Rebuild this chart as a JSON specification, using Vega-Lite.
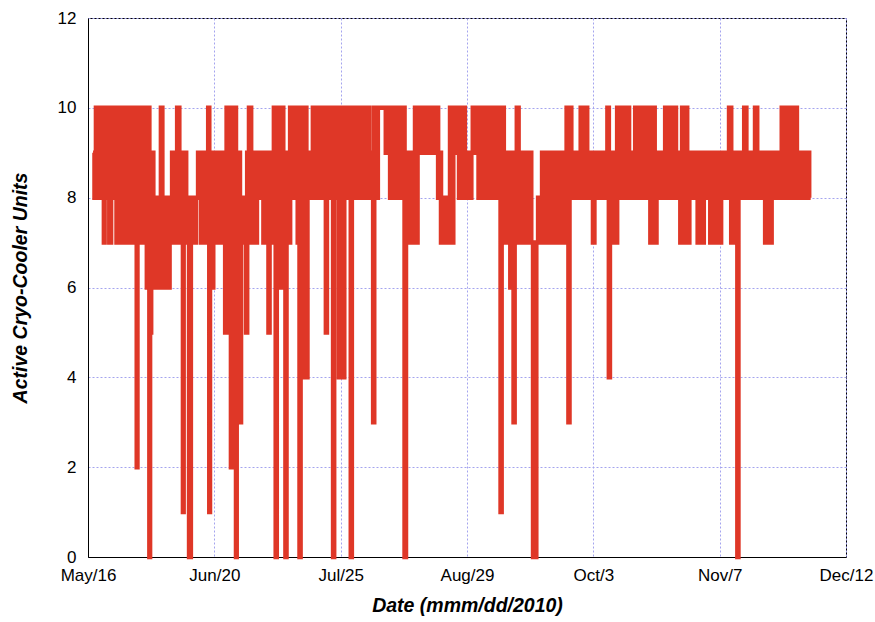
{
  "$schema": "https://vega.github.io/schema/vega-lite/v6.json",
  "width": 758,
  "height": 539,
  "autosize": {"type": "none"},
  "padding": {"left": 88, "top": 18, "right": 29, "bottom": 65},
  "background": "white",
  "config": {
    "view": {"stroke": "black", "strokeWidth": 1},
    "font": "Liberation Sans",
    "axis": {
      "labelFont": "Liberation Sans",
      "titleFont": "Liberation Sans",
      "labelFontSize": 17,
      "labelColor": "black",
      "titleFontSize": 19.5,
      "titleFontWeight": "bold",
      "titleFontStyle": "italic",
      "titleColor": "black",
      "ticks": false,
      "domainColor": "black",
      "grid": true,
      "gridColor": "#a4a4ee",
      "gridDash": [2, 2],
      "gridWidth": 1
    }
  },
  "data": {"values": [
    {"d":1.4,"v":9},{"d":1.8,"v":8},{"d":2.2,"v":10},{"d":3.0,"v":8},{"d":3.8,"v":10},{"d":4.4,"v":7},{"d":4.6,"v":10},{"d":5.4,"v":8},{"d":5.9,"v":7},{"d":6.4,"v":10},{"d":7.1,"v":8},{"d":7.6,"v":10},{"d":7.9,"v":7},
    {"d":8.5,"v":10},{"d":9.4,"v":7},{"d":10.3,"v":10},{"d":11.2,"v":7},{"d":12.1,"v":10},{"d":13.0,"v":7},{"d":13.5,"v":2},{"d":13.7,"v":10},{"d":14.6,"v":7},{"d":15.5,"v":10},{"d":16.3,"v":6},{"d":16.6,"v":10},{"d":17.0,"v":0},{"d":17.2,"v":5},{"d":17.5,"v":9},{"d":18.1,"v":6},{"d":18.8,"v":8},{"d":19.5,"v":6},{"d":20.2,"v":10},{"d":20.6,"v":6},{"d":21.4,"v":8},{"d":22.0,"v":6},{"d":22.6,"v":8},{"d":23.0,"v":7},{"d":23.3,"v":9},{"d":24.0,"v":7},{"d":24.7,"v":10},{"d":25.3,"v":7},{"d":25.9,"v":9},{"d":26.3,"v":1},{"d":26.5,"v":9},{"d":27.2,"v":7},{"d":27.7,"v":8},{"d":28.0,"v":0},{"d":28.5,"v":8},{"d":29.2,"v":7},{"d":29.9,"v":8},{"d":30.5,"v":9},{"d":31.3,"v":7},{"d":32.1,"v":9},{"d":32.9,"v":7},{"d":33.3,"v":10},{"d":33.6,"v":1},{"d":33.8,"v":9},
    {"d":34.2,"v":6},{"d":34.7,"v":9},{"d":35.5,"v":7},{"d":36.3,"v":9},{"d":37.1,"v":7},{"d":37.6,"v":9},{"d":38.0,"v":5},{"d":38.4,"v":10},{"d":39.0,"v":5},{"d":39.4,"v":10},{"d":39.6,"v":2},{"d":39.8,"v":9},{"d":40.2,"v":4},{"d":40.6,"v":10},{"d":41.0,"v":0},{"d":41.2,"v":3},{"d":41.6,"v":9},{"d":42.1,"v":3},{"d":42.4,"v":7},{"d":42.9,"v":8},{"d":43.4,"v":7},{"d":43.8,"v":5},{"d":44.1,"v":9},{"d":44.6,"v":10},{"d":45.2,"v":7},{"d":45.8,"v":9},{"d":46.4,"v":7},{"d":46.8,"v":9},{"d":47.4,"v":8},{"d":48.0,"v":9},{"d":48.6,"v":7},{"d":49.3,"v":9},{"d":50.0,"v":5},{"d":50.3,"v":9},{"d":50.9,"v":7},{"d":51.5,"v":10},{"d":52.0,"v":0},{"d":52.3,"v":10},{"d":53.0,"v":6},{"d":53.5,"v":10},{"d":54.1,"v":7},{"d":54.7,"v":0},{"d":55.0,"v":9},{"d":55.6,"v":7},{"d":56.0,"v":10},{"d":56.8,"v":8},{"d":57.5,"v":10},{"d":58.1,"v":7},{"d":58.6,"v":0},{"d":58.9,"v":10},{"d":59.5,"v":4},{"d":60.0,"v":10},{"d":60.5,"v":4},{"d":60.8,"v":8},{"d":61.4,"v":9},{"d":62.0,"v":8},{"d":62.3,"v":10},{"d":62.9,"v":8},{"d":63.5,"v":10},{"d":64.2,"v":8},{"d":64.9,"v":10},{"d":65.6,"v":8},{"d":65.9,"v":5},{"d":66.2,"v":10},{"d":66.9,"v":8},
    {"d":67.5,"v":10},{"d":67.9,"v":0},{"d":68.2,"v":10},{"d":69.0,"v":8},{"d":69.5,"v":4},{"d":69.9,"v":10},{"d":70.5,"v":4},{"d":71.0,"v":10},{"d":71.5,"v":8},{"d":72.1,"v":10},{"d":72.8,"v":0},{"d":73.1,"v":10},{"d":73.8,"v":8},{"d":74.5,"v":10},{"d":75.2,"v":8},{"d":75.9,"v":10},{"d":76.6,"v":8},{"d":76.9,"v":9},{"d":77.3,"v":10},{"d":78.0,"v":8},{"d":78.6,"v":9},{"d":79.0,"v":3},{"d":79.3,"v":10},{"d":79.9,"v":8},{"d":80.3,"v":10},{"d":82.5,"v":9},{"d":83.1,"v":10},{"d":83.7,"v":8},{"d":84.4,"v":10},{"d":85.1,"v":8},{"d":85.8,"v":10},{"d":86.4,"v":8},{"d":87.1,"v":10},{"d":87.7,"v":0},{"d":88.1,"v":9},{"d":88.7,"v":7},{"d":89.4,"v":9},{"d":90.1,"v":7},{"d":90.6,"v":10},{"d":90.9,"v":7},{"d":91.3,"v":10},{"d":91.9,"v":9},{"d":92.6,"v":10},{"d":93.3,"v":9},{"d":94.0,"v":10},{"d":94.7,"v":9},{"d":95.4,"v":10},{"d":96.1,"v":9},{"d":96.6,"v":10},{"d":97.0,"v":8},{"d":97.5,"v":9},{"d":97.8,"v":7},{"d":98.5,"v":8},{"d":99.2,"v":7},{"d":99.9,"v":8},
    {"d":100.3,"v":10},{"d":100.8,"v":7},{"d":101.2,"v":10},{"d":101.8,"v":9},{"d":102.4,"v":10},{"d":102.8,"v":8},{"d":103.4,"v":9},{"d":104.0,"v":10},{"d":104.4,"v":8},{"d":105.0,"v":9},{"d":105.6,"v":8},{"d":106.2,"v":9},{"d":106.6,"v":10},{"d":107.2,"v":9},{"d":107.8,"v":10},{"d":108.2,"v":8},{"d":108.8,"v":9},{"d":109.4,"v":10},{"d":110.0,"v":8},{"d":110.6,"v":10},{"d":111.3,"v":8},{"d":112.0,"v":10},{"d":112.7,"v":8},{"d":113.4,"v":10},{"d":114.0,"v":8},{"d":114.3,"v":1},{"d":114.6,"v":10},{"d":115.2,"v":7},{"d":115.8,"v":9},{"d":116.5,"v":8},{"d":117.0,"v":6},{"d":117.4,"v":9},{"d":117.9,"v":3},{"d":118.2,"v":8},{"d":118.8,"v":10},{"d":119.3,"v":7},{"d":119.9,"v":9},{"d":120.5,"v":7},{"d":121.0,"v":9},{"d":121.6,"v":7},{"d":122.2,"v":9},{"d":122.8,"v":7},{"d":123.3,"v":0},{"d":124.2,"v":7},{"d":124.7,"v":8},{"d":125.3,"v":7},{"d":125.8,"v":9},{"d":126.4,"v":8},{"d":126.9,"v":7},{"d":127.6,"v":9},{"d":128.3,"v":7},{"d":129.0,"v":9},{"d":129.7,"v":7},{"d":130.2,"v":8},{"d":130.6,"v":9},{"d":131.0,"v":7},{"d":131.6,"v":9},{"d":132.1,"v":7},{"d":132.6,"v":10},{"d":133.1,"v":3},{"d":133.4,"v":10},
    {"d":133.9,"v":8},{"d":134.6,"v":9},{"d":135.3,"v":8},{"d":136.0,"v":9},{"d":136.5,"v":10},{"d":137.1,"v":8},{"d":137.7,"v":10},{"d":138.3,"v":8},{"d":138.9,"v":9},{"d":139.5,"v":8},{"d":139.9,"v":7},{"d":140.3,"v":9},{"d":140.6,"v":8},{"d":141.6,"v":9},{"d":142.2,"v":8},{"d":142.8,"v":9},{"d":143.4,"v":8},{"d":143.9,"v":10},{"d":144.3,"v":4},{"d":144.6,"v":9},{"d":145.2,"v":7},{"d":145.8,"v":9},{"d":146.1,"v":7},{"d":146.6,"v":10},{"d":147.2,"v":8},{"d":147.8,"v":10},{"d":148.4,"v":8},{"d":149.0,"v":9},{"d":149.4,"v":10},{"d":149.9,"v":8},{"d":150.5,"v":9},{"d":151.1,"v":8},{"d":151.6,"v":10},{"d":152.2,"v":8},{"d":152.8,"v":10},{"d":153.4,"v":8},{"d":154.0,"v":10},{"d":154.6,"v":8},{"d":155.2,"v":10},{"d":155.8,"v":7},{"d":156.4,"v":10},{"d":157.0,"v":7},{"d":157.5,"v":9},{"d":158.1,"v":8},{"d":158.7,"v":9},{"d":159.3,"v":8},{"d":159.9,"v":10},{"d":160.5,"v":8},{"d":161.1,"v":10},{"d":161.7,"v":8},{"d":162.3,"v":10},{"d":162.9,"v":8},{"d":163.5,"v":9},{"d":164.1,"v":7},{"d":164.6,"v":10},{"d":165.2,"v":7},{"d":165.6,"v":10},{"d":166.0,"v":7},{"d":166.6,"v":9},
    {"d":167.1,"v":8},{"d":167.7,"v":9},{"d":168.3,"v":8},{"d":168.9,"v":7},{"d":169.5,"v":9},{"d":170.1,"v":7},{"d":170.6,"v":9},{"d":171.2,"v":8},{"d":171.8,"v":9},{"d":172.4,"v":7},{"d":173.0,"v":9},{"d":173.6,"v":7},{"d":174.2,"v":9},{"d":174.8,"v":7},{"d":175.4,"v":9},{"d":175.9,"v":8},{"d":176.5,"v":9},{"d":177.1,"v":8},{"d":177.6,"v":10},{"d":178.2,"v":7},{"d":178.8,"v":9},{"d":179.4,"v":7},{"d":179.9,"v":0},{"d":180.2,"v":9},{"d":180.6,"v":8},{"d":181.2,"v":9},{"d":181.8,"v":10},{"d":182.4,"v":8},{"d":183.0,"v":9},{"d":183.6,"v":8},{"d":184.2,"v":9},{"d":184.8,"v":10},{"d":185.4,"v":8},{"d":186.0,"v":9},{"d":186.6,"v":8},{"d":187.2,"v":9},{"d":187.6,"v":7},{"d":188.2,"v":9},{"d":188.8,"v":7},{"d":189.4,"v":9},{"d":189.8,"v":8},{"d":190.4,"v":9},{"d":191.0,"v":8},{"d":191.6,"v":9},{"d":192.2,"v":10},{"d":192.8,"v":8},{"d":193.4,"v":10},{"d":194.0,"v":8},{"d":194.6,"v":10},{"d":195.2,"v":8},{"d":195.8,"v":10},{"d":196.4,"v":8},{"d":196.8,"v":9},{"d":197.4,"v":8},{"d":198.0,"v":9},{"d":198.6,"v":8},{"d":199.2,"v":9},{"d":199.8,"v":8},{"d":200.2,"v":8}
  ]},
  "mark": {"type": "line", "interpolate": "step-after", "color": "#df3727", "strokeWidth": 4.5, "strokeJoin": "miter"},
  "encoding": {
    "x": {
      "field": "d",
      "type": "quantitative",
      "scale": {"domain": [0, 210], "nice": false, "zero": false},
      "axis": {
        "values": [0, 35, 70, 105, 140, 175, 210],
        "labelExpr": "timeFormat(datetime(2010, 4, 16 + datum.value), '%b/%-d')",
        "labelPadding": 10,
        "labelFlush": false,
        "title": "Date (mmm/dd/2010)",
        "titlePadding": 13
      }
    },
    "y": {
      "field": "v",
      "type": "quantitative",
      "scale": {"domain": [0, 12], "nice": false},
      "axis": {
        "values": [0, 2, 4, 6, 8, 10, 12],
        "labelPadding": 12,
        "title": "Active Cryo-Cooler Units",
        "titlePadding": 27
      }
    }
  }
}
